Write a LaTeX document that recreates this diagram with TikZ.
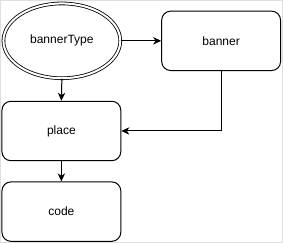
\documentclass[tikz,border=0pt]{standalone}
\usepackage{fontspec}
\setmainfont{Liberation Sans}
\usetikzlibrary{shapes.geometric,arrows.meta}

\begin{document}
\begin{tikzpicture}[x=0.75pt, y=-0.75pt, every node/.style={font=\fontsize{9}{11}\selectfont},
  entity/.style={draw, rounded corners=6.75pt, minimum width=89pt, minimum height=44.5pt, inner sep=0pt, line width=0.75pt},
  root/.style={draw, ellipse, double, double distance=1.5pt, line width=0.6pt, minimum width=87.5pt, minimum height=56pt, inner sep=0pt},
  link/.style={line width=0.75pt, -{Stealth[length=6pt, width=5.5pt, inset=1.8pt]}}]
\draw[gray!25, fill=white] (0.5,0.5) rectangle (282.5,242.5);
\node[root] (bannerType) at (62,41) {bannerType};
\node[entity] (banner) at (221,41) {banner};
\node[entity] (place) at (61.5,131) {place};
\node[entity] (code) at (61.5,211.5) {code};

\draw[link] (bannerType.east) -- (banner.west);
\draw[link] (bannerType.south) -- (place.north);
\draw[link] (banner.south) |- (place.east);
\draw[link] (place.south) -- (code.north);
\end{tikzpicture}
\end{document}
